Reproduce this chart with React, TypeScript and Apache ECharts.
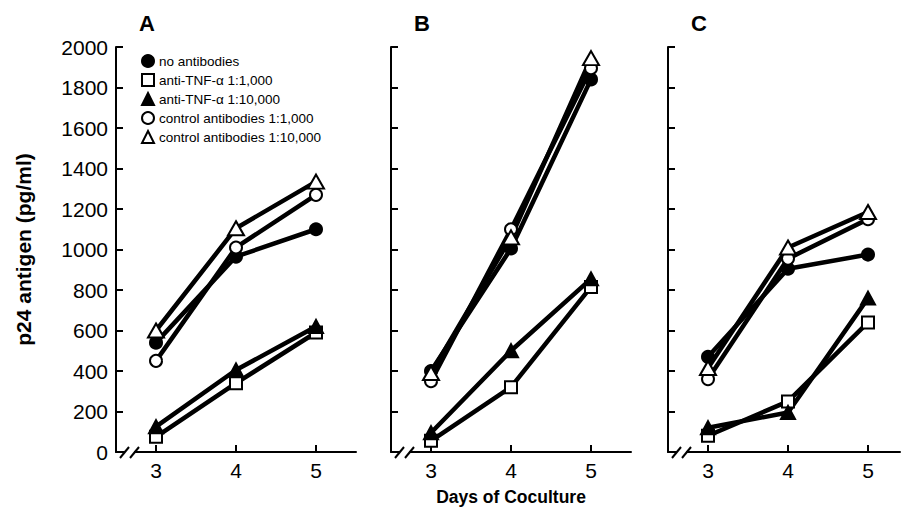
import React, { useEffect, useRef } from 'react';
import * as echarts from 'echarts';

const days = [3, 4, 5];
const xTickValues = [3, 4, 5];
const seriesNames = [
  'no antibodies',
  'anti-TNF-α 1:1,000',
  'anti-TNF-α 1:10,000',
  'control antibodies 1:1,000',
  'control antibodies 1:10,000',
];
const panelLabels = ['A', 'B', 'C'];

// Panel A
const A_noAntibodies = [540, 965, 1100];
const A_antiTNF1000 = [75, 340, 590];
const A_antiTNF10000 = [125, 405, 620];
const A_control1000 = [450, 1010, 1270];
const A_control10000 = [600, 1105, 1335];
// Panel B
const B_noAntibodies = [400, 1005, 1840];
const B_antiTNF1000 = [55, 320, 815];
const B_antiTNF10000 = [95, 500, 855];
const B_control1000 = [350, 1100, 1895];
const B_control10000 = [390, 1060, 1945];
// Panel C
const C_noAntibodies = [470, 905, 975];
const C_antiTNF1000 = [80, 250, 640];
const C_antiTNF10000 = [120, 195, 760];
const C_control1000 = [360, 955, 1150];
const C_control10000 = [415, 1010, 1185];

const panelData = [
  [A_noAntibodies, A_antiTNF1000, A_antiTNF10000, A_control1000, A_control10000],
  [B_noAntibodies, B_antiTNF1000, B_antiTNF10000, B_control1000, B_control10000],
  [C_noAntibodies, C_antiTNF1000, C_antiTNF10000, C_control1000, C_control10000],
];

const symbols = ['circle', 'rect', 'triangle', 'circle', 'triangle'];
const fills = ['#000', '#fff', '#000', '#fff', '#fff'];
const sizes: any[] = [12, 12, [14, 13], 12, [16, 14]];

const GRID_TOP = 47;
const GRID_H = 405;
const lefts = [116, 391, 668];
const widths = [240, 240, 232];
const PX_PER_DAY = 80;
const FONT = '"Liberation Sans", Arial, sans-serif';

export default function App() {
  const ref = useRef<HTMLDivElement>(null);
  useEffect(() => {
    if (!ref.current) return;
    const chart = echarts.init(ref.current, undefined, { renderer: 'svg' });

    const grids = lefts.map((l, i) => ({ left: l, top: GRID_TOP, width: widths[i], height: GRID_H }));
    const xAxes = lefts.map((l, i) => ({
      type: 'value',
      gridIndex: i,
      min: 2.5,
      max: 2.5 + widths[i] / PX_PER_DAY,
      axisLine: { show: true, lineStyle: { color: '#000', width: 2 } },
      axisTick: { show: true, inside: true, length: 7, customValues: xTickValues, lineStyle: { color: '#000', width: 2 } },
      axisLabel: { show: true, customValues: xTickValues, fontSize: 21, color: '#000', fontFamily: FONT, margin: 8 },
      splitLine: { show: false },
      ...(i === 1
        ? {
            name: 'Days of Coculture',
            nameLocation: 'middle',
            nameGap: 36,
            nameTextStyle: { fontSize: 17.5, fontWeight: 'bold', color: '#000', fontFamily: FONT },
          }
        : {}),
    }));
    const yAxes = lefts.map((l, i) => ({
      type: 'value',
      gridIndex: i,
      min: 0,
      max: 2000,
      interval: 200,
      axisLine: { show: true, lineStyle: { color: '#000', width: 2 } },
      axisTick: { show: true, inside: true, length: 7, lineStyle: { color: '#000', width: 2 } },
      axisLabel: {
        show: i === 0,
        fontSize: 21,
        color: '#000',
        fontFamily: FONT,
        margin: 8,
        formatter: (v: number) => String(v),
      },
      splitLine: { show: false },
      ...(i === 0
        ? {
            name: 'p24 antigen (pg/ml)',
            nameLocation: 'middle',
            nameGap: 82,
            nameRotate: 90,
            nameTextStyle: { fontSize: 21, fontWeight: 'bold', color: '#000', fontFamily: FONT },
          }
        : {}),
    }));

    const series: any[] = [];
    panelData.forEach((panel, p) => {
      panel.forEach((vals, s) => {
        series.push({
          type: 'line',
          name: '_line_' + p + '_' + s,
          xAxisIndex: p,
          yAxisIndex: p,
          data: days.map((d, k) => [d, vals[k]]),
          symbol: 'none',
          showSymbol: false,
          lineStyle: { color: '#000', width: 4.5 },
          z: 2,
          silent: true,
        });
      });
      panel.forEach((vals, s) => {
        series.push({
          type: 'scatter',
          name: seriesNames[s],
          xAxisIndex: p,
          yAxisIndex: p,
          data: days.map((d, k) => [d, vals[k]]),
          symbol: symbols[s],
          symbolSize: sizes[s],
          itemStyle: { color: fills[s], borderColor: '#000', borderWidth: 2, opacity: 1 },
          z: 3,
          silent: true,
        });
      });
    });

    const graphic: any[] = [];
    panelLabels.forEach((lab, i) => {
      graphic.push({
        type: 'text',
        left: lefts[i] + 23,
        top: 12,
        style: { text: lab, fontSize: 22, fontWeight: 'bold', fill: '#000', fontFamily: FONT },
        z: 10,
      });
      const L = lefts[i];
      const y0 = GRID_TOP + GRID_H;
      graphic.push({
        type: 'rect',
        shape: { x: L + 9, y: y0 - 3, width: 9, height: 6 },
        style: { fill: '#fff' },
        z: 10,
      });
      graphic.push({
        type: 'line',
        shape: { x1: L + 4, y1: y0 + 6, x2: L + 13, y2: y0 - 5 },
        style: { stroke: '#000', lineWidth: 2 },
        z: 11,
      });
      graphic.push({
        type: 'line',
        shape: { x1: L + 14, y1: y0 + 6, x2: L + 23, y2: y0 - 5 },
        style: { stroke: '#000', lineWidth: 2 },
        z: 11,
      });
    });

    chart.setOption({
      animation: false,
      backgroundColor: '#fff',
      grid: grids,
      xAxis: xAxes,
      yAxis: yAxes,
      legend: {
        orient: 'vertical',
        left: 141,
        top: 54,
        padding: 0,
        itemWidth: 12,
        itemHeight: 12,
        itemGap: 5,
        selectedMode: false,
        textStyle: { fontSize: 13.5, color: '#000', fontFamily: FONT },
        data: seriesNames.map((n, s) => ({
          name: n,
          icon: symbols[s],
          itemStyle: { color: fills[s], borderColor: '#000', borderWidth: 2 },
        })),
      },
      graphic,
      series,
    });
    return () => chart.dispose();
  }, []);
  return <div ref={ref} style={{ position: 'fixed', left: 0, top: 0, width: 902, height: 512 }} />;
}
